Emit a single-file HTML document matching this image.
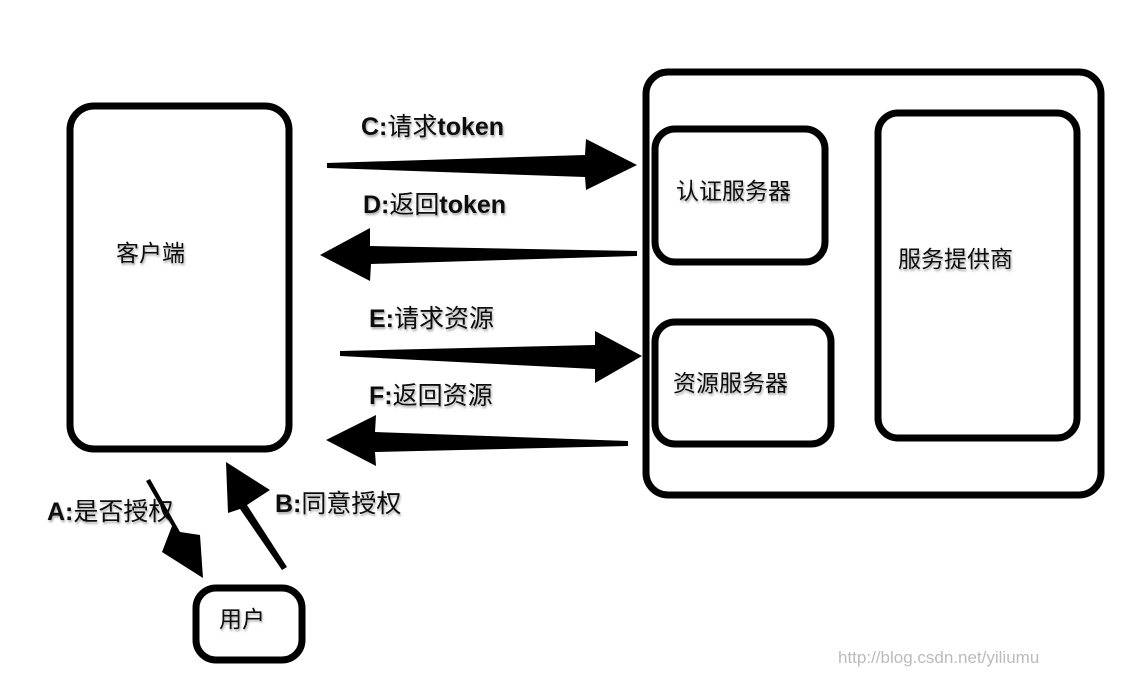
<!DOCTYPE html>
<html><head><meta charset="utf-8"><style>
body{margin:0;background:#fff;}
svg text{font-family:"Liberation Sans","Noto Sans CJK SC",sans-serif;fill:#111;}
</style></head><body>
<svg width="1131" height="677" viewBox="0 0 1131 677" xmlns="http://www.w3.org/2000/svg">
<defs><filter id="s" x="-10%" y="-10%" width="120%" height="130%"><feDropShadow dx="1" dy="2" stdDeviation="1" flood-color="#000" flood-opacity="0.35"/></filter></defs>
<g fill="none" stroke="#000" stroke-width="7">
<rect x="70" y="106" width="219" height="343" rx="24"/>
<rect x="646" y="72" width="455" height="423" rx="22"/>
<rect x="655" y="129" width="170" height="133" rx="20"/>
<rect x="655" y="322" width="176" height="122" rx="20"/>
<rect x="878" y="113" width="199" height="325" rx="20"/>
<rect x="196" y="588" width="106" height="72" rx="20"/>
</g>
<g fill="#000">
<polygon points="327,163 585,155 586,139 637,165 586,190 585,177 327,168"/>
<polygon points="637,251 370,246 370,228 320,255 370,281 371,264 637,256"/>
<polygon points="340,351 595,345 595,331 642,356 595,383 595,369 340,356"/>
<polygon points="628,441 375,432 376,415 326,440 376,466 375,452 628,446"/>
<polygon points="146,481 172,526 162,552 203,578 200,535 180,532 150,479"/>
<polygon points="287,567 247,505 270,490 226,462 228,513 240,509 282,570"/>
</g>
<g font-weight="bold" font-size="25" filter="url(#s)">
<text x="361" y="135">C:<tspan font-weight="normal">请求</tspan>token</text>
<text x="363" y="213">D:<tspan font-weight="normal">返回</tspan>token</text>
<text x="369" y="327">E:<tspan font-weight="normal">请求资源</tspan></text>
<text x="369" y="404">F:<tspan font-weight="normal">返回资源</tspan></text>
<text x="47" y="520">A:<tspan font-weight="normal">是否授权</tspan></text>
<text x="275" y="512">B:<tspan font-weight="normal">同意授权</tspan></text>
</g>
<g font-size="23" filter="url(#s)">
<text x="116" y="261">客户端</text>
<text x="676" y="199">认证服务器</text>
<text x="673" y="391">资源服务器</text>
<text x="898" y="267">服务提供商</text>
<text x="219" y="627">用户</text>
</g>
<text x="838" y="663" font-family="Liberation Mono,monospace" font-size="17" style="fill:#bbb">http://blog.csdn.net/yiliumu</text>
</svg>
</body></html>
